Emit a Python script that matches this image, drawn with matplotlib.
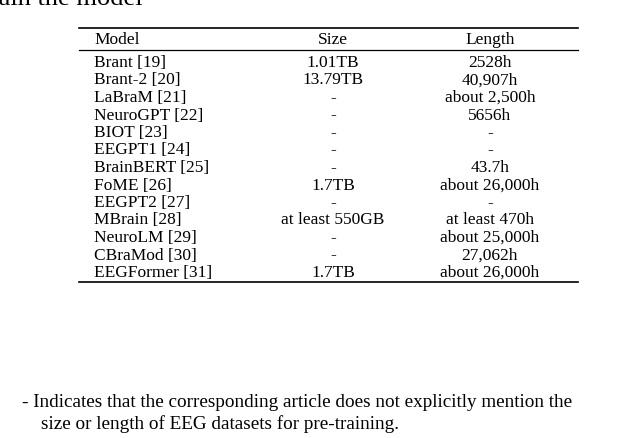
import matplotlib
matplotlib.use("Agg")
import matplotlib.pyplot as plt

models = ["Brant [19]", "Brant-2 [20]", "LaBraM [21]", "NeuroGPT [22]", "BIOT [23]",
          "EEGPT1 [24]", "BrainBERT [25]", "FoME [26]", "EEGPT2 [27]", "MBrain [28]",
          "NeuroLM [29]", "CBraMod [30]", "EEGFormer [31]"]
sizes = ["1.01TB", "13.79TB", "-", "-", "-", "-", "-", "1.7TB", "-", "at least 550GB",
         "-", "-", "1.7TB"]
lengths = ["2528h", "40,907h", "about 2,500h", "5656h", "-", "-", "43.7h", "about 26,000h",
           "-", "at least 470h", "about 25,000h", "27,062h", "about 26,000h"]

W, H = 640, 439
fig = plt.figure(figsize=(W / 100, H / 100), dpi=100)
plt.rcParams['font.family'] = ['Liberation Serif', 'DejaVu Serif']

def px(x, y):
    return x / W, 1 - y / H

def txt(x, y, s, ha="left", size=12.5):
    fig.text(*px(x, y), s, ha=ha, va="center", fontsize=size)

def rule(y, lw=1.2):
    x0, yy = px(79, y)
    x1, _ = px(578, y)
    fig.add_artist(plt.Line2D([x0, x1], [yy, yy], color="black", lw=lw))

txt(-10, -1, "rain the model", size=19)
rule(29)
rule(51, lw=0.9)
rule(283)
txt(94, 40, "Model")
txt(333, 40, "Size", ha="center")
txt(490, 40, "Length", ha="center")
for i, (m, s, l) in enumerate(zip(models, sizes, lengths)):
    y = 63 + i * 17.5
    txt(94, y, m)
    txt(333, y, s, ha="center")
    txt(490, y, l, ha="center")

txt(22, 403, "- Indicates that the corresponding article does not explicitly mention the", size=13.8)
txt(41, 424, "size or length of EEG datasets for pre-training.", size=13.8)

fig.savefig("out.png", dpi=100)
